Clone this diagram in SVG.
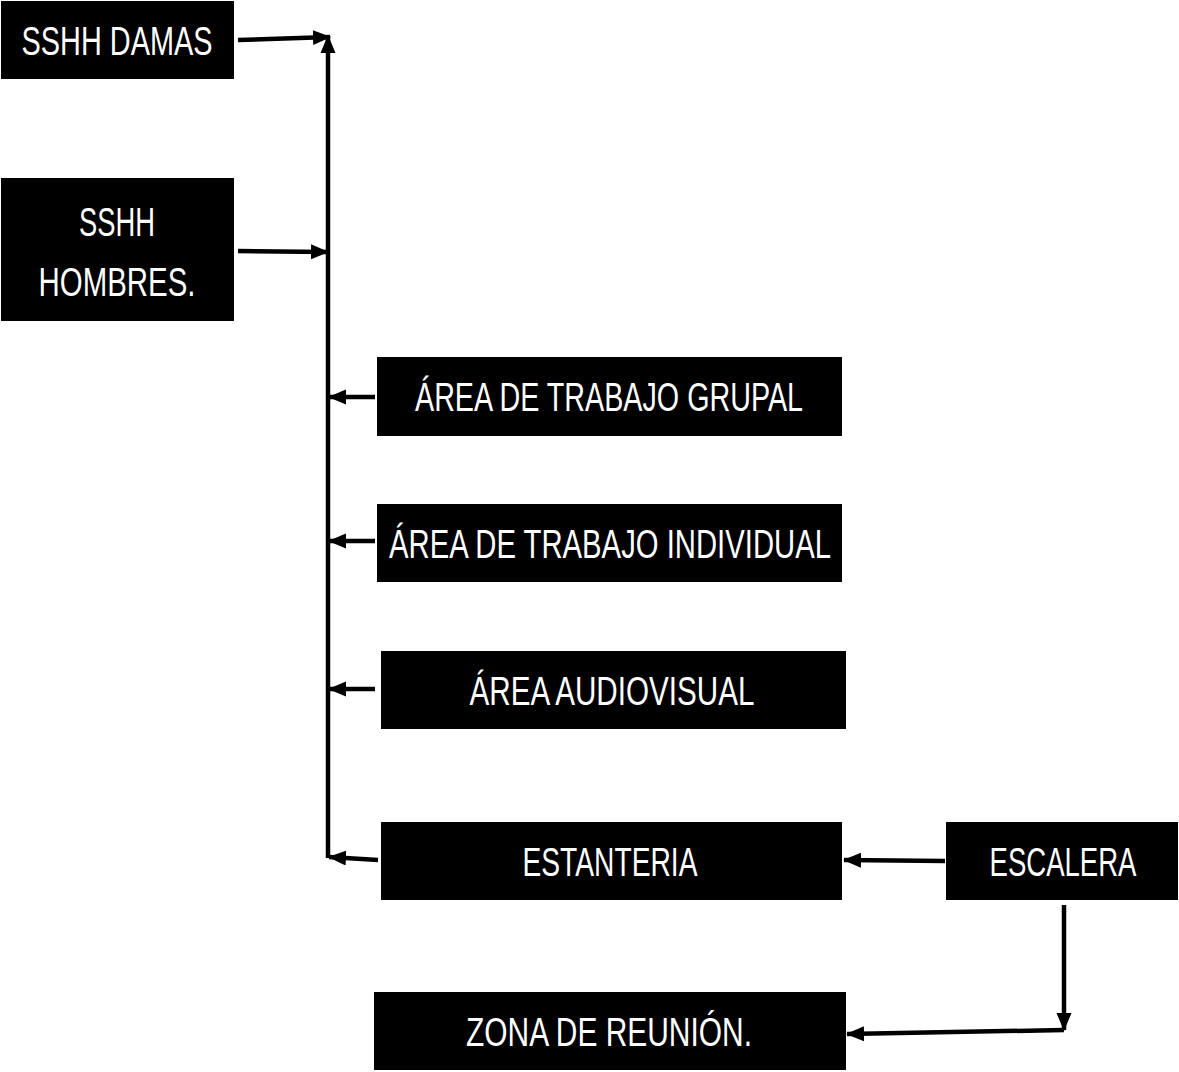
<svg xmlns="http://www.w3.org/2000/svg" width="1179" height="1072" viewBox="0 0 1179 1072">
<style>
.box{fill:#000;}
.t{fill:#fff;font-family:"Liberation Sans Narrow","Liberation Sans",sans-serif;font-size:41px;text-anchor:middle;}
.c{stroke:#000;stroke-width:4.5;fill:none;}
</style>
<defs>
<marker id="ah" markerUnits="userSpaceOnUse" markerWidth="18" markerHeight="18" viewBox="0 0 18 18" refX="17" refY="9" orient="auto">
<path d="M0,1.5 L18,9 L0,16.5 Z" fill="#000"/>
</marker>
</defs>
<rect width="1179" height="1072" fill="#fff"/>
<g id="connectors">
<line class="c" x1="328" y1="858" x2="328" y2="36" marker-end="url(#ah)"/>
<line class="c" x1="238" y1="40" x2="330" y2="37" marker-end="url(#ah)"/>
<line class="c" x1="238" y1="251" x2="328" y2="252" marker-end="url(#ah)"/>
<line class="c" x1="375" y1="397" x2="329" y2="397" marker-end="url(#ah)"/>
<line class="c" x1="375" y1="541" x2="329" y2="541" marker-end="url(#ah)"/>
<line class="c" x1="375" y1="689" x2="329" y2="689" marker-end="url(#ah)"/>
<line class="c" x1="378" y1="860" x2="329" y2="857" marker-end="url(#ah)"/>
<line class="c" x1="945" y1="861" x2="844" y2="860" marker-end="url(#ah)"/>
<line class="c" x1="1064" y1="905" x2="1064" y2="1030" marker-end="url(#ah)"/>
<line class="c" x1="1064" y1="1030" x2="847" y2="1034" marker-end="url(#ah)"/>
</g>
<g id="n-damas"><rect class="box" x="1" y="1" width="233" height="78"/><text class="t" x="117" y="55" textLength="191" lengthAdjust="spacingAndGlyphs">SSHH DAMAS</text></g>
<g id="n-hombres"><rect class="box" x="1" y="178" width="233" height="143"/><text class="t" x="117" y="236" textLength="76" lengthAdjust="spacingAndGlyphs">SSHH</text><text class="t" x="117" y="296" textLength="157" lengthAdjust="spacingAndGlyphs">HOMBRES.</text></g>
<g id="n-grupal"><rect class="box" x="377" y="357" width="465" height="79"/><text class="t" x="609" y="411" textLength="388" lengthAdjust="spacingAndGlyphs">ÁREA DE TRABAJO GRUPAL</text></g>
<g id="n-individual"><rect class="box" x="377" y="504" width="465" height="78"/><text class="t" x="610" y="558" textLength="442" lengthAdjust="spacingAndGlyphs">ÁREA DE TRABAJO INDIVIDUAL</text></g>
<g id="n-audiovisual"><rect class="box" x="381" y="651" width="465" height="78"/><text class="t" x="612" y="705" textLength="285" lengthAdjust="spacingAndGlyphs">ÁREA AUDIOVISUAL</text></g>
<g id="n-estanteria"><rect class="box" x="381" y="822" width="461" height="78"/><text class="t" x="610" y="876" textLength="175" lengthAdjust="spacingAndGlyphs">ESTANTERIA</text></g>
<g id="n-escalera"><rect class="box" x="946" y="822" width="232" height="78"/><text class="t" x="1063" y="876" textLength="147" lengthAdjust="spacingAndGlyphs">ESCALERA</text></g>
<g id="n-zona"><rect class="box" x="374" y="992" width="472" height="78"/><text class="t" x="609" y="1046" textLength="286" lengthAdjust="spacingAndGlyphs">ZONA DE REUNIÓN.</text></g>
</svg>
